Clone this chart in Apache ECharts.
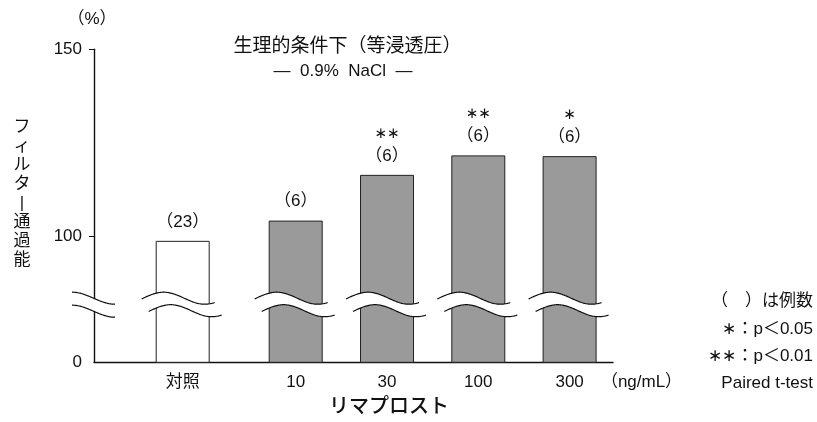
<!DOCTYPE html>
<html>
<head>
<meta charset="utf-8">
<script src="https://cdn.jsdelivr.net/npm/echarts@6/dist/echarts.min.js"></script>
<style>
  html, body { margin: 0; padding: 0; background: #fff; }
  #chart { width: 817px; height: 422px; }
</style>
</head>
<body>
<div id="chart"></div>
<script>
"use strict";

// values
const doses = ["対照", "10", "30", "100", "300"];
const filterPass = [98.9, 104.3, 116.5, 121.7, 121.5];
const nCounts = [23, 6, 6, 6, 6];
const signif = ["", "", "∗∗", "∗∗", "∗"];
const yTicks = [100, 150];

// layout
const FONT = '"Liberation Sans", "Noto Sans CJK JP", sans-serif';
const Y_FLOOR = 66.5; // value sitting on the x axis (broken axis, labelled 0)
const Y_BREAK = 83.6; // height of the wavy break
const CTRL_GAP = 0.2377; // extra room between control and the dose bars
const X_MIN = -0.9715;
const X_MAX = 4.713;

function slot(i) {
  return i === 0 ? 0 : i + CTRL_GAP;
}
const slots = doses.map((d, i) => slot(i));

// sample a cosine wave in pixel space
function wave(x0, x1, cy, peakX, halfP, amp) {
  const pts = [];
  for (let x = x0; x <= x1 + 0.01; x += 1) {
    pts.push([x, cy - amp * Math.cos(((x - peakX) * Math.PI) / halfP)]);
  }
  return pts;
}

function breakShape(top, low) {
  const area = top.concat(low.slice().reverse());
  const line = { stroke: "#111", lineWidth: 1.2, fill: null };
  return {
    type: "group",
    children: [
      { type: "polygon", shape: { points: area }, style: { fill: "#fff" } },
      { type: "polyline", shape: { points: top }, style: line },
      { type: "polyline", shape: { points: low }, style: line },
    ],
  };
}

function renderBarBreak(params, api) {
  const c = api.coord([api.value(0), api.value(1)]);
  const cx = c[0];
  const cy = c[1];
  const top = wave(cx - 41, cx + 32, cy, cx - 19, 41, 6);
  const low = wave(cx - 34, cx + 39, cy + 12.5, cx - 12, 41, 6);
  return breakShape(top, low);
}

function renderAxisBreak(params, api) {
  const c = api.coord([api.value(0), api.value(1)]);
  const cx = c[0];
  const cy = c[1];
  const top = wave(cx - 22, cx + 21, cy, cx - 22, 43, 6);
  const low = wave(cx - 22, cx + 21, cy + 13, cx - 22, 43, 6);
  return breakShape(top, low);
}

const chart = echarts.init(document.getElementById("chart"));

const txt = (x, y, text, opt) => ({
  type: "text",
  x: x,
  y: y,
  style: Object.assign(
    { text: text, font: "17px " + FONT, fill: "#111", align: "center", verticalAlign: "middle" },
    opt || {}
  ),
});

chart.setOption({
  animation: false,
  textStyle: { fontFamily: FONT },
  grid: { left: 94, right: 204, top: 49.3, bottom: 59.7, containLabel: false },
  xAxis: {
    type: "value",
    min: X_MIN,
    max: X_MAX,
    splitLine: { show: false },
    axisTick: { show: false },
    axisLine: { onZero: false, lineStyle: { color: "#111", width: 1.4 } },
    axisLabel: {
      customValues: slots,
      margin: 12,
      fontSize: 17,
      color: "#111",
      formatter: (v) => {
        const i = slots.findIndex((s) => Math.abs(s - v) < 1e-6);
        return i < 0 ? "" : doses[i];
      },
    },
  },
  yAxis: {
    type: "value",
    min: Y_FLOOR,
    max: 150,
    splitLine: { show: false },
    axisLine: { show: true, onZero: false, lineStyle: { color: "#111", width: 1.4 } },
    axisTick: { show: true, length: 5, customValues: yTicks, lineStyle: { color: "#111" } },
    axisLabel: {
      customValues: [Y_FLOOR].concat(yTicks),
      margin: 12,
      fontSize: 17,
      color: "#111",
      formatter: (v) => (Math.abs(v - Y_FLOOR) < 1e-6 ? "0" : String(v)),
    },
  },
  series: [
    {
      type: "bar",
      barWidth: 54,
      clip: true,
      data: filterPass.map((v, i) => ({
        value: [slot(i), v],
        itemStyle: { color: i === 0 ? "#fff" : "#9a9a9a" },
      })),
      itemStyle: { borderColor: "#222", borderWidth: 1 },
      label: {
        show: true,
        position: "top",
        distance: 8,
        fontSize: 17,
        lineHeight: 22,
        color: "#111",
        formatter: (p) =>
          (signif[p.dataIndex] ? "{ast|" + signif[p.dataIndex] + "}\n" : "") +
          "（" + nCounts[p.dataIndex] + "）",
        rich: {
          ast: { fontFamily: "DejaVu Sans", fontSize: 15, lineHeight: 22, color: "#111" },
        },
      },
    },
    {
      type: "custom",
      z: 5,
      renderItem: renderBarBreak,
      data: slots.map((s) => [s, Y_BREAK]),
    },
    {
      type: "custom",
      z: 5,
      renderItem: renderAxisBreak,
      data: [[X_MIN, Y_BREAK]],
    },
  ],
  graphic: [
    txt(92, 19.5, "（%）"),
    txt(347.5, 46.7, "生理的条件下（等浸透圧）", { font: "19px " + FONT }),
    txt(343, 71.7, "―  0.9%  NaCl  ―"),
    txt(22, 194, "フ\nィ\nル\nタ\n|\n通\n過\n能", { font: "17px " + FONT, lineHeight: 19 }),
    txt(641.5, 382, "（ng/mL）"),
    txt(389, 407, "リマプロスト", { font: "500 20px " + FONT }),
    txt(813, 301.7, "（　）は例数", { align: "right" }),
    txt(813, 329.3, "∗：p＜0.05", { align: "right" }),
    txt(813, 356, "∗∗：p＜0.01", { align: "right" }),
    txt(813, 383.3, "Paired t-test", { align: "right" }),
  ],
});
</script>
</body>
</html>
